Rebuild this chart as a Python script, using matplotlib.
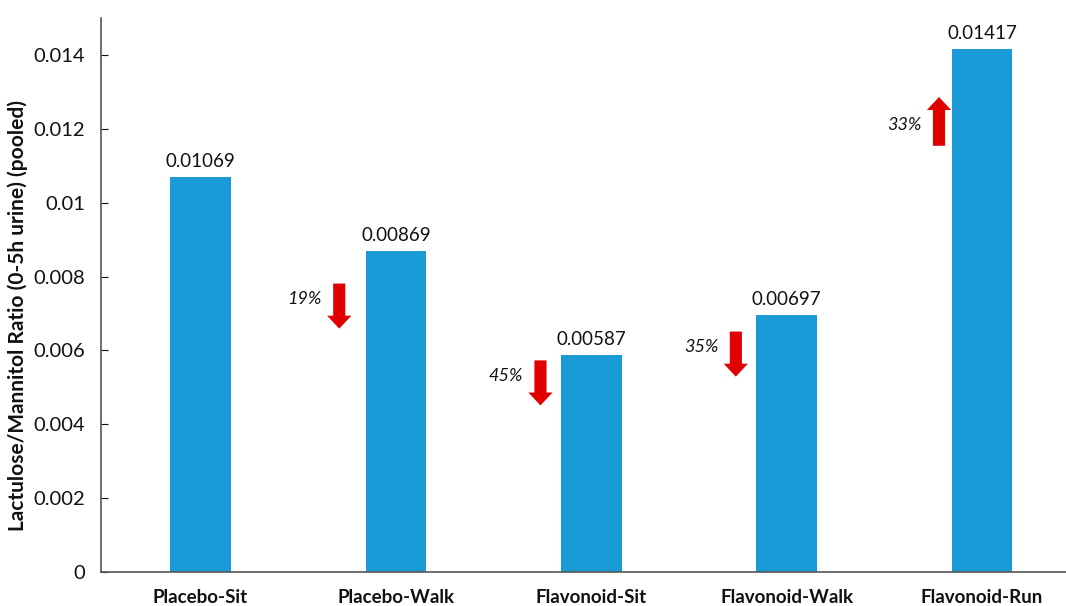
import matplotlib
matplotlib.use("Agg")
import matplotlib.pyplot as plt
from matplotlib.patches import FancyArrow

plt.rcParams['font.family'] = ['Lato', 'DejaVu Sans']

# Lactulose/Mannitol ratio per condition
groups = ["Placebo-Sit", "Placebo-Walk", "Flavonoid-Sit", "Flavonoid-Walk", "Flavonoid-Run"]
ratios = [0.01069, 0.00869, 0.00587, 0.00697, 0.01417]
baseline = ratios[0]

# change arrows: (bar index, arrow start y, arrow end y)
arrows = [
    (1, 0.00781, 0.00659),
    (2, 0.00573, 0.00451),
    (3, 0.00651, 0.00529),
    (4, 0.01154, 0.01286),
]
arrow_dx = [-0.29, -0.26, -0.26, -0.22]

bar_color = '#1a9bd7'
arrow_color = '#e00000'

fig = plt.figure(figsize=(10.66, 6.06), dpi=100)
ax = fig.add_axes([0.0952, 0.0561, 0.9048, 0.9142])

x = list(range(len(groups)))
ax.bar(x, ratios, width=0.31, color=bar_color)

for xi, v in zip(x, ratios):
    ax.annotate(f"{v:.5f}", (xi, v), xytext=(0, 5), textcoords='offset points',
                ha='center', va='bottom', fontsize=13.5, color='#111111')

for (i, y0, y1), dx in zip(arrows, arrow_dx):
    ax_x = x[i] + dx
    ax.add_patch(FancyArrow(ax_x, y0, 0, y1 - y0, width=0.062, head_width=0.124,
                            head_length=0.00035, length_includes_head=True,
                            color=arrow_color, lw=0))
    pct = abs(ratios[i] - baseline) / baseline * 100
    ty = (y0 + y1) / 2 + (0.0002 if y1 < y0 else -0.0001)
    ax.text(ax_x - 0.09, ty, f"{pct:.0f}%", ha='right', va='center',
            fontsize=13, style='italic', color='#111111')

ax.set_xlim(-0.507, 4.43)
ax.set_ylim(0, 0.015)
ax.set_yticks([0, 0.002, 0.004, 0.006, 0.008, 0.01, 0.012, 0.014])
ax.set_yticklabels(["0", "0.002", "0.004", "0.006", "0.008", "0.01", "0.012", "0.014"])
ax.set_xticks(x)
ax.set_xticklabels(groups, fontweight='bold')
ax.tick_params(axis='y', direction='in', length=5, labelsize=14.5, pad=12, colors='#111111')
ax.tick_params(axis='x', length=0, labelsize=13.5, pad=12, colors='#111111')

for side in ('top', 'right'):
    ax.spines[side].set_visible(False)
for side in ('left', 'bottom'):
    ax.spines[side].set_color('#555555')
    ax.spines[side].set_linewidth(1.2)

fig.text(0.017, 0.48, "Lactulose/Mannitol Ratio (0-5h urine) (pooled)", rotation=90,
         ha='center', va='center', fontsize=15, fontweight='bold', color='#111111')

fig.savefig("out.png", dpi=100, facecolor='white')
